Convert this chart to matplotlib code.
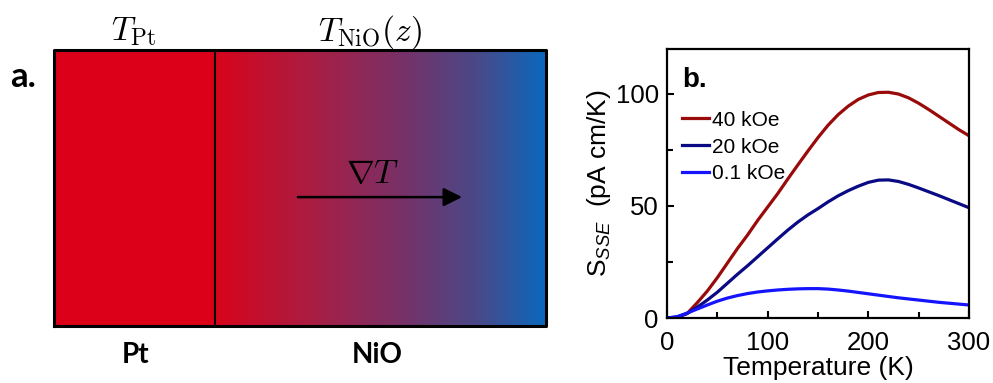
import numpy as np
import matplotlib
matplotlib.use("Agg")
import matplotlib.pyplot as plt
from matplotlib.colors import LinearSegmentedColormap
from matplotlib.ticker import MultipleLocator

plt.rcParams["font.family"] = "Liberation Sans"
plt.rcParams["mathtext.fontset"] = "custom"
plt.rcParams["mathtext.rm"] = "Liberation Sans"
plt.rcParams["mathtext.it"] = "Liberation Sans:italic"

# temperature grid (K) and read-off S_SSE values (pA cm/K)
temp = [0, 10, 20, 30, 40, 50, 60, 70, 80, 90, 100, 110, 120, 130, 140, 150,
        160, 170, 180, 190, 200, 210, 220, 230, 240, 250, 260, 270, 280, 290, 300]
s_40 = [0, 0.3, 2.0, 6.8, 12.0, 18.0, 24.5, 31.0, 37.0, 43.5, 49.5, 55.5, 62.0,
        68.3, 74.5, 80.5, 86.0, 90.7, 94.5, 97.5, 99.5, 100.6, 100.7, 99.9, 98.2,
        95.8, 93.0, 90.0, 87.0, 84.0, 81.3]
s_20 = [0, 0.4, 2.0, 4.8, 8.0, 11.5, 15.5, 19.5, 23.3, 27.3, 31.3, 35.3, 39.2,
        42.8, 46.0, 48.8, 51.8, 54.5, 56.8, 58.8, 60.5, 61.5, 61.6, 60.9, 59.6,
        58.0, 56.3, 54.6, 52.8, 51.0, 49.2]
s_01 = [0, 0.6, 2.2, 4.0, 5.8, 7.5, 8.9, 10.0, 10.9, 11.6, 12.1, 12.5, 12.8,
        13.0, 13.1, 13.1, 12.9, 12.5, 12.0, 11.4, 10.8, 10.2, 9.6, 9.0, 8.5,
        8.0, 7.5, 7.0, 6.6, 6.2, 5.8]
labels = ["40 kOe", "20 kOe", "0.1 kOe"]
colors = ["#990a0a", "#0a0a85", "#1414ff"]

fig = plt.figure(figsize=(9.93, 3.83), dpi=100)

# --- panel a: Pt / NiO schematic ---
axa = fig.add_axes([54 / 993, 57 / 383, 492 / 993, 276 / 383])
axa.set_xlim(0, 1)
axa.set_ylim(0, 1)
axa.axis("off")
x_div = 0.327
axa.axvspan(0, x_div, color="#dc0019", lw=0)
grad = LinearSegmentedColormap.from_list(
    "nio", [(0, "#d8041c"), (0.3, "#a81e44"), (0.55, "#7a3066"),
            (0.8, "#474a8a"), (1.0, "#0a69bf")])
axa.imshow(np.linspace(0, 1, 256)[None, :], cmap=grad, aspect="auto",
           extent=[x_div, 1, 0, 1])
axa.plot([0, 1, 1, 0, 0], [0, 0, 1, 1, 0], color="black", lw=2.2, clip_on=False)
axa.plot([x_div, x_div], [0, 1], color="black", lw=1.5)
axa.annotate("", xy=(0.835, 0.467), xytext=(0.49, 0.467),
             arrowprops=dict(arrowstyle="-|>", color="black", lw=1.8, mutation_scale=28))
axa.text(0.648, 0.55, r"$\nabla T$", fontsize=24, math_fontfamily="cm",
         ha="center", va="center")
axa.text(0.161, 1.065, r"$T_{\rm Pt}$", fontsize=24, math_fontfamily="cm",
         ha="center", va="center")
axa.text(0.642, 1.065, r"$T_{\rm NiO}(z)$", fontsize=24, math_fontfamily="cm",
         ha="center", va="center")
axa.text(0.165, -0.105, "Pt", fontsize=20, family="Lato", weight="bold",
         ha="center", va="center")
axa.text(0.657, -0.105, "NiO", fontsize=20, family="Lato", weight="bold",
         ha="center", va="center")
axa.text(-0.063, 0.902, "a.", fontsize=25, family="Lato", weight="bold",
         ha="center", va="center")

# --- panel b: S_SSE vs temperature ---
ax = fig.add_axes([667 / 993, 65 / 383, 302 / 993, 269 / 383])
for s, lab, c in zip([s_40, s_20, s_01], labels, colors):
    ax.plot(temp, s, color=c, lw=2.3, label=lab)
ax.set_xlim(0, 300)
ax.set_ylim(0, 120)
ax.xaxis.set_major_locator(MultipleLocator(100))
ax.xaxis.set_minor_locator(MultipleLocator(50))
ax.yaxis.set_major_locator(MultipleLocator(50))
ax.yaxis.set_minor_locator(MultipleLocator(25))
ax.tick_params(which="both", direction="in", width=1.5, labelsize=18.5)
ax.tick_params(which="major", length=5)
ax.tick_params(which="minor", length=4)
ax.tick_params(axis="x", pad=9)
ax.tick_params(axis="y", pad=6)
for sp in ax.spines.values():
    sp.set_linewidth(1.6)
ax.set_xlabel("Temperature (K)", fontsize=19, labelpad=1)
ax.set_ylabel(r"S$_{\it{SSE}}$  (pA cm/K)", fontsize=19, labelpad=2)
ax.text(0.05, 0.885, "b.", transform=ax.transAxes, fontsize=20, weight="bold",
        ha="left", va="center")
ax.legend(loc="upper left", bbox_to_anchor=(0.0, 0.825), frameon=False,
          fontsize=15, handlelength=1.3, handletextpad=0.15, labelspacing=0.38,
          borderaxespad=0.3)

fig.savefig("out.png", dpi=100)
